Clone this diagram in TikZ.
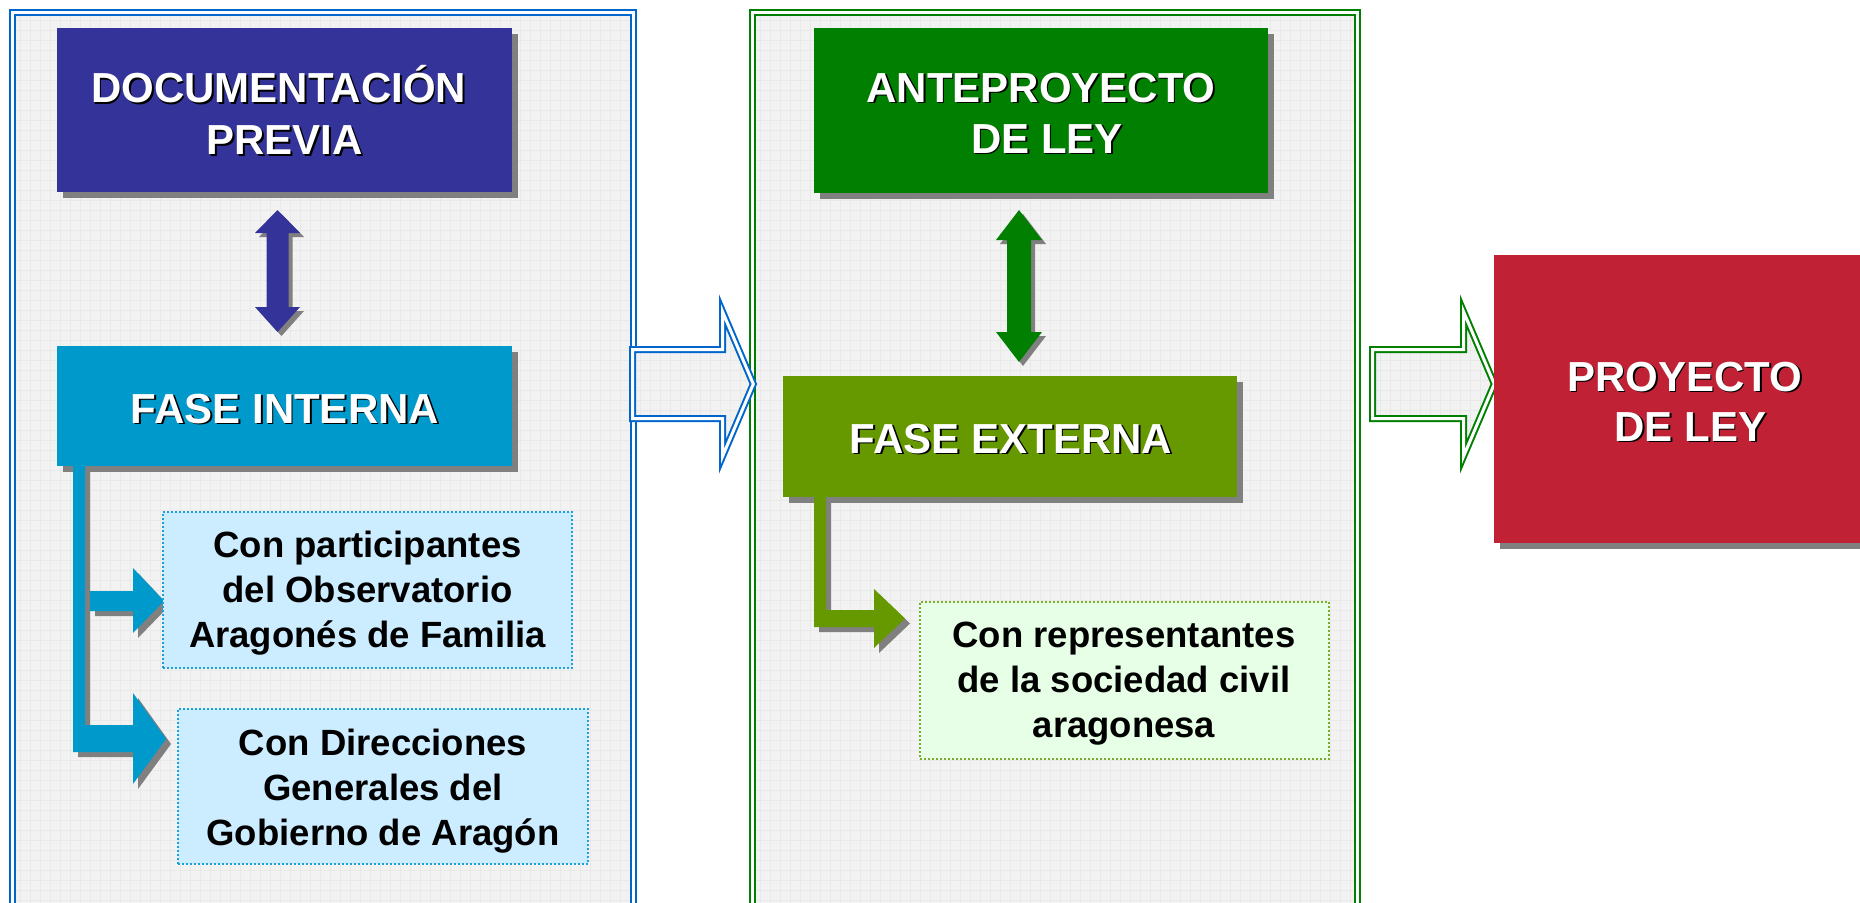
\documentclass[tikz,border=0pt]{standalone}
\usepackage{fontspec}
\setmainfont{Liberation Sans}
\usetikzlibrary{shadows}
\definecolor{docblue}{HTML}{333399}
\definecolor{intcyan}{HTML}{0099CC}
\definecolor{antegreen}{HTML}{007F00}
\definecolor{extgreen}{HTML}{669900}
\definecolor{leyred}{HTML}{C12134}
\definecolor{lightblue}{HTML}{CCECFF}
\definecolor{lightgreen}{HTML}{E6FFE6}
\definecolor{panelblue}{HTML}{0066CC}
\definecolor{panelgreen}{HTML}{008000}
\definecolor{panelfill}{HTML}{F2F2F2}
\definecolor{gridcol}{HTML}{E9E9E9}
\definecolor{shadowgray}{HTML}{808080}
\definecolor{dotblue}{HTML}{1AA0DA}
\definecolor{dotgreen}{HTML}{7AAE2A}
\newcommand{\gridall}{%
  \fill[panelfill] (0,0) rectangle (1860,910);
  \foreach \gi in {0,...,186}{\draw[gridline] (\gi*10,0) -- (\gi*10,910);}
  \foreach \gj in {0,...,91}{\draw[gridline] (0,\gj*10) -- (1860,\gj*10);}}
\newcommand{\embossed}[5]{%
  \node[titletext=#4,text=black] (#1-shadow) at (#2+1.8,#3+1.8) {\begin{tabular}{@{}c@{}}#5\end{tabular}};
  \node[titletext=#4,text=white] (#1) at (#2,#3) {\begin{tabular}{@{}c@{}}#5\end{tabular}};}
\begin{document}
\begin{tikzpicture}[x=1pt,y=-1pt,
  gridline/.style={draw=gridcol,line width=0.6pt},
  panelline/.style={draw=#1,double=white,line width=2pt,double distance=3pt,line join=miter},
  mainbox/.style={rectangle,inner sep=0pt,outer sep=0pt,draw=none,
    drop shadow={shadow xshift=6pt,shadow yshift=-6pt,opacity=1,fill=shadowgray}},
  arrowshadow/.style={drop shadow={shadow xshift=4pt,shadow yshift=-4pt,opacity=1,fill=shadowgray}},
  elbowshadow/.style={drop shadow={shadow xshift=5pt,shadow yshift=-5pt,opacity=1,fill=shadowgray}},
  lightbox/.style={rectangle,inner sep=0pt,outer sep=0pt,line width=1.5pt,dash pattern=on 2pt off 2pt},
  titletext/.style={inner sep=0pt,outer sep=0pt,font=\bfseries\fontsize{42}{#1}\selectfont},
  titletext/.default=51,
  bodytext/.style={inner sep=0pt,outer sep=0pt,text=black,font=\bfseries\fontsize{36.5}{45}\selectfont},
]
\useasboundingbox (0,0) rectangle (1860,902);
\fill[white] (0,0) rectangle (1860,902);

% panels
\begin{scope}
  \clip (12,12.5) rectangle (633,910);
  \gridall
\end{scope}
\begin{scope}
  \clip (752.5,12.8) rectangle (1357.5,910);
  \gridall
\end{scope}
\draw[panelline=panelblue] (12,12.5) rectangle (633,910);
\draw[panelline=panelgreen] (752.5,12.8) rectangle (1357.5,910);

% big outline arrows
\begin{scope}
  \clip (632.5,349.5) -- (722.5,349.5) -- (722.5,311.5) -- (753.3,384) -- (722.5,456.5) -- (722.5,418.5) -- (632.5,418.5) -- cycle;
  \gridall
\end{scope}
\draw[panelline=panelblue] (632.5,349.5) -- (722.5,349.5) -- (722.5,311.5) -- (753.3,384) -- (722.5,456.5) -- (722.5,418.5) -- (632.5,418.5) -- cycle;
\begin{scope}
  \clip (1372.5,349.5) -- (1463.5,349.5) -- (1463.5,311.5) -- (1494.3,384) -- (1463.5,456.5) -- (1463.5,418.5) -- (1372.5,418.5) -- cycle;
  \gridall
\end{scope}
\draw[panelline=panelgreen] (1372.5,349.5) -- (1463.5,349.5) -- (1463.5,311.5) -- (1494.3,384) -- (1463.5,456.5) -- (1463.5,418.5) -- (1372.5,418.5) -- cycle;

% main boxes
\node[mainbox,fill=docblue,minimum width=455pt,minimum height=164pt] (doc) at (284.5,110) {};
\node[mainbox,fill=intcyan,minimum width=455pt,minimum height=120pt] (interna) at (284.5,406) {};
\node[mainbox,fill=antegreen,minimum width=454pt,minimum height=165pt] (ante) at (1041,110.5) {};
\node[mainbox,fill=extgreen,minimum width=454pt,minimum height=121pt] (externa) at (1010,436.5) {};
\node[mainbox,fill=leyred,minimum width=381pt,minimum height=288pt] (proyecto) at (1684.5,399) {};

\embossed{doctext}{284.5}{117.6}{52}{DOCUMENTACIÓN\kern.28em\\PREVIA}
\embossed{internatext}{285}{412.8}{51}{FASE INTERNA}
\embossed{antetext}{1041}{117.3}{51}{ANTEPROYECTO\\\kern.28em DE LEY}
\embossed{externatext}{1011}{442.8}{51}{FASE EXTERNA}
\embossed{proyectotext}{1684.5}{406}{50}{PROYECTO\\\kern.28em DE LEY}

% double arrows
\fill[docblue,arrowshadow] (277.5,210) -- (300,233) -- (288.5,233) -- (288.5,307) -- (300,307) -- (277.5,332) -- (255,307) -- (266.5,307) -- (266.5,233) -- (255,233) -- cycle;
\fill[antegreen,arrowshadow] (1019,210) -- (1042,240) -- (1031,240) -- (1031,332) -- (1042,332) -- (1019,362) -- (996,332) -- (1007,332) -- (1007,240) -- (996,240) -- cycle;

% elbow connectors
\fill[intcyan,elbowshadow] (73,466) -- (85,466) -- (85,725) -- (133,725) -- (133,693) -- (166,739) -- (133,784) -- (133,752) -- (73,752) -- cycle;
\fill[intcyan,elbowshadow] (90,591) -- (133,591) -- (133,568) -- (164,601) -- (133,633) -- (133,611) -- (90,611) -- cycle;
\fill[extgreen,elbowshadow] (814,497) -- (826,497) -- (826,610) -- (874,610) -- (874,589) -- (905,618.5) -- (874,648) -- (874,627) -- (814,627) -- cycle;

% light boxes
\node[lightbox,fill=lightblue,draw=dotblue,minimum width=409pt,minimum height=156pt] (obs) at (367.5,590) {};
\node[lightbox,fill=lightblue,draw=dotblue,minimum width=410pt,minimum height=155pt] (dir) at (383,786.5) {};
\node[lightbox,fill=lightgreen,draw=dotgreen,minimum width=409pt,minimum height=157pt] (soc) at (1124.5,680.5) {};

\node[bodytext] (obstext) at (367.5,593.7) {\begin{tabular}{@{}c@{}}Con participantes\\del Observatorio\\Aragonés de Familia\end{tabular}};
\node[bodytext] (dirtext) at (383,791) {\begin{tabular}{@{}c@{}}Con Direcciones\\Generales del\\Gobierno de Aragón\end{tabular}};
\node[bodytext] (soctext) at (1124,683.7) {\begin{tabular}{@{}c@{}}Con representantes\\de la sociedad civil\\aragonesa\end{tabular}};
\end{tikzpicture}
\end{document}
